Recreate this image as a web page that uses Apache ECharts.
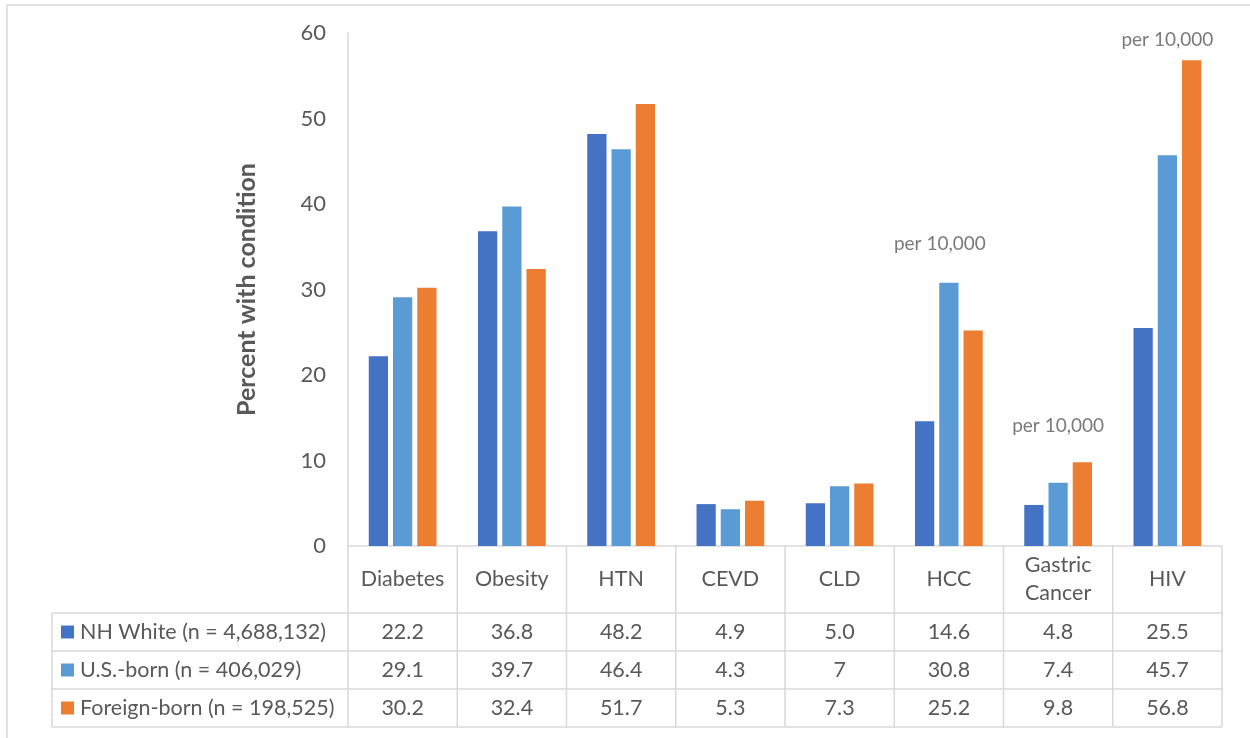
<!DOCTYPE html>
<html>
<head>
<meta charset="utf-8">
<script src="https://cdn.jsdelivr.net/npm/echarts@6/dist/echarts.min.js"></script>
<style>
html,body{margin:0;padding:0;background:#fff;}
#main{width:1250px;height:738px;}
</style>
</head>
<body>
<div id="main"></div>
<script>
const categories = ['Diabetes', 'Obesity', 'HTN', 'CEVD', 'CLD', 'HCC', 'Gastric\nCancer', 'HIV'];
const seriesNames = ['NH White (n = 4,688,132)', 'U.S.-born (n = 406,029)', 'Foreign-born (n = 198,525)'];
const nhWhite = [22.2, 36.8, 48.2, 4.9, 5.0, 14.6, 4.8, 25.5];
const usBorn = [29.1, 39.7, 46.4, 4.3, 7, 30.8, 7.4, 45.7];
const foreignBorn = [30.2, 32.4, 51.7, 5.3, 7.3, 25.2, 9.8, 56.8];
const nhWhiteText = ['22.2', '36.8', '48.2', '4.9', '5.0', '14.6', '4.8', '25.5'];
const usBornText = ['29.1', '39.7', '46.4', '4.3', '7', '30.8', '7.4', '45.7'];
const foreignBornText = ['30.2', '32.4', '51.7', '5.3', '7.3', '25.2', '9.8', '56.8'];
const noteText = 'per 10,000';
const noteLevels = [null, null, null, null, null, 35.3, 14.0, 59.2];
const yTicks = [0, 10, 20, 30, 40, 50, 60];

const colors = ['#4472C4', '#5B9BD5', '#ED7D31'];
const textColor = '#595959';
const lineColor = '#D9D9D9';
const font = 'Lato, "Open Sans", sans-serif';

const chart = echarts.init(document.getElementById('main'));

const gridLeft = 348, gridRight = 28, gridTop = 33, gridBottom = 192;

const barSeries = [nhWhite, usBorn, foreignBorn].map((d, i) => ({
  name: seriesNames[i],
  type: 'bar',
  data: d,
  barGap: '26%',
  barCategoryGap: '38%',
  itemStyle: { color: colors[i] },
  emphasis: { disabled: true },
  silent: true
}));

barSeries.push({
  name: 'notes',
  type: 'scatter',
  data: noteLevels.map((v, i) => v === null ? null : {
    value: [i, v],
    label: i === 5 ? { offset: [-9, 0] } : {}
  }),
  symbolSize: 0,
  silent: true,
  label: {
    show: true,
    position: 'inside',
    formatter: noteText,
    color: textColor,
    fontFamily: font,
    fontSize: 19
  }
});

chart.setOption({
  animation: false,
  backgroundColor: '#fff',
  grid: { left: gridLeft, right: gridRight, top: gridTop, bottom: gridBottom, containLabel: false },
  xAxis: {
    type: 'category',
    data: categories,
    axisLine: { show: true, lineStyle: { color: lineColor, width: 1.5 } },
    axisTick: { show: false },
    axisLabel: {
      color: textColor,
      fontFamily: font,
      fontSize: 21.5,
      lineHeight: 28,
      margin: 33,
      verticalAlign: 'middle',
      interval: 0
    }
  },
  yAxis: {
    type: 'value',
    min: yTicks[0],
    max: yTicks[yTicks.length - 1],
    interval: 10,
    name: 'Percent with condition',
    nameLocation: 'middle',
    nameRotate: 90,
    nameGap: 89,
    nameTextStyle: { color: textColor, fontFamily: font, fontSize: 25, fontWeight: 'bold' },
    axisLine: { show: true, lineStyle: { color: lineColor, width: 1.5 } },
    axisTick: { show: false },
    splitLine: { show: false },
    axisLabel: { color: textColor, fontFamily: font, fontSize: 22, margin: 22 }
  },
  series: barSeries
});

// Data table below the chart
function drawTable() {
  const c0 = chart.convertToPixel({ xAxisIndex: 0 }, 0);
  const c1 = chart.convertToPixel({ xAxisIndex: 0 }, 1);
  const cw = c1 - c0;
  const xStart = c0 - cw / 2;
  const axisY = chart.convertToPixel({ yAxisIndex: 0 }, 0);
  const tableLeft = 52;
  const headerBottom = axisY + 67;
  const rowH = 38;
  const xEnd = xStart + cw * categories.length;
  const els = [];
  const ls = { stroke: lineColor, lineWidth: 1.5 };
  const tf = '21.5px ' + font;

  // outer chart border
  els.push({ type: 'rect', shape: { x: 7, y: 5, width: 1270, height: 760 }, style: { fill: 'none', stroke: lineColor, lineWidth: 1.5 }, silent: true });

  // vertical column lines
  for (let k = 0; k <= categories.length; k++) {
    const x = xStart + k * cw;
    els.push({ type: 'line', shape: { x1: x, y1: axisY, x2: x, y2: headerBottom + rowH * 3 }, style: ls, silent: true });
  }
  // horizontal row lines
  for (let r = 0; r <= 3; r++) {
    const y = headerBottom + r * rowH;
    els.push({ type: 'line', shape: { x1: tableLeft, y1: y, x2: xEnd, y2: y }, style: ls, silent: true });
  }
  els.push({ type: 'line', shape: { x1: tableLeft, y1: headerBottom, x2: tableLeft, y2: headerBottom + rowH * 3 }, style: ls, silent: true });

  const rowsText = [nhWhiteText, usBornText, foreignBornText];
  rowsText.forEach((row, r) => {
    const cy = headerBottom + r * rowH + rowH / 2;
    els.push({ type: 'rect', shape: { x: 61, y: cy - 6.5, width: 13, height: 13 }, style: { fill: colors[r] }, silent: true });
    els.push({ type: 'text', x: 80, y: cy, style: { text: seriesNames[r], fill: textColor, font: tf, textAlign: 'left', textVerticalAlign: 'middle' }, silent: true });
    row.forEach((t, i) => {
      const cx = chart.convertToPixel({ xAxisIndex: 0 }, i);
      els.push({ type: 'text', x: cx, y: cy, style: { text: t, fill: textColor, font: tf, textAlign: 'center', textVerticalAlign: 'middle' }, silent: true });
    });
  });
  chart.setOption({ graphic: { elements: els } });
}
drawTable();
</script>
</body>
</html>
